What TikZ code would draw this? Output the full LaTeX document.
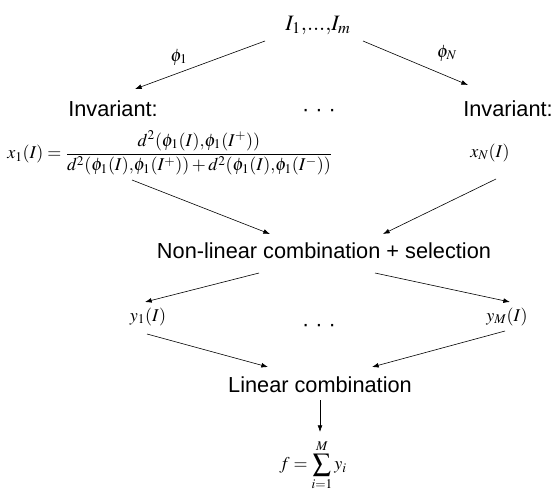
\documentclass[tikz,border=0pt]{standalone}
\usepackage{mathptmx}
\usepackage[no-math]{fontspec}
\setmainfont{Liberation Sans}
\usetikzlibrary{arrows.meta}
\begin{document}
\begin{tikzpicture}[x=0.75pt,y=-0.75pt,
  lbl/.style={inner sep=0pt, anchor=base, font=\fontsize{16.3}{19}\selectfont},
  mth/.style={inner sep=0pt, anchor=base, font=\fontsize{16.5}{19}\selectfont},
  smth/.style={inner sep=0pt, anchor=base, font=\fontsize{13.5}{16}\selectfont},
  arr/.style={-{Latex[length=5pt,width=3.6pt]}, line width=0.45pt}]
\useasboundingbox (0,0) rectangle (557,493);
\node[mth] (top) at (318,30) {$I_1{,}...{,}I_m$};
\node[smth, anchor=center] (p1) at (179,57) {$\phi_1$};
\node[smth, anchor=center] (pN) at (447,53) {$\phi_N$};
\node[lbl] (inv1) at (113,116) {Invariant:};
\node[lbl] (dots1) at (319,116) {· · ·};
\node[lbl] (invN) at (508,116) {Invariant:};
\node[smth, anchor=west] (frac) at (7,153) {$x_1(I)=\displaystyle\frac{d^2(\phi_1(I){,}\phi_1(I^+))}{d^2(\phi_1(I){,}\phi_1(I^+))+d^2(\phi_1(I){,}\phi_1(I^-))}$};
\node[smth] (xN) at (490,157) {$x_N(I)$};
\node[lbl] (nl) at (324,258) {Non-linear combination + selection};
\node[smth] (y1) at (148,321) {$y_1(I)$};
\node[lbl] (dots2) at (319,331) {· · ·};
\node[smth] (yM) at (507,321) {$y_M(I)$};
\node[lbl] (lin) at (320,392) {Linear combination};
\node[smth, anchor=center] (f) at (313,465) {$f=\displaystyle\sum_{i=1}^{M} y_i$};
\draw[arr] ([shift={(-53,11)}]top.base) -- ([shift={(22,-27)}]inv1.base);
\draw[arr] ([shift={(45,11)}]top.base) -- ([shift={(-40,-31)}]invN.base);
\draw[arr] ([shift={(125,27)}]frac.west) -- ([shift={(-54,-24)}]nl.base);
\draw[arr] ([shift={(6,22)}]xN.base) -- ([shift={(59,-24)}]nl.base);
\draw[arr] ([shift={(-65,15)}]nl.base) -- ([shift={(-3,-19)}]y1.base);
\draw[arr] ([shift={(51,15)}]nl.base) -- ([shift={(3,-19)}]yM.base);
\draw[arr] ([shift={(-1,13)}]y1.base) -- ([shift={(-52,-25)}]lin.base);
\draw[arr] ([shift={(-2,10)}]yM.base) -- ([shift={(52,-25)}]lin.base);
\draw[arr] ([shift={(0,8)}]lin.base) -- ([shift={(7,-33)}]f.center);
\end{tikzpicture}
\end{document}
